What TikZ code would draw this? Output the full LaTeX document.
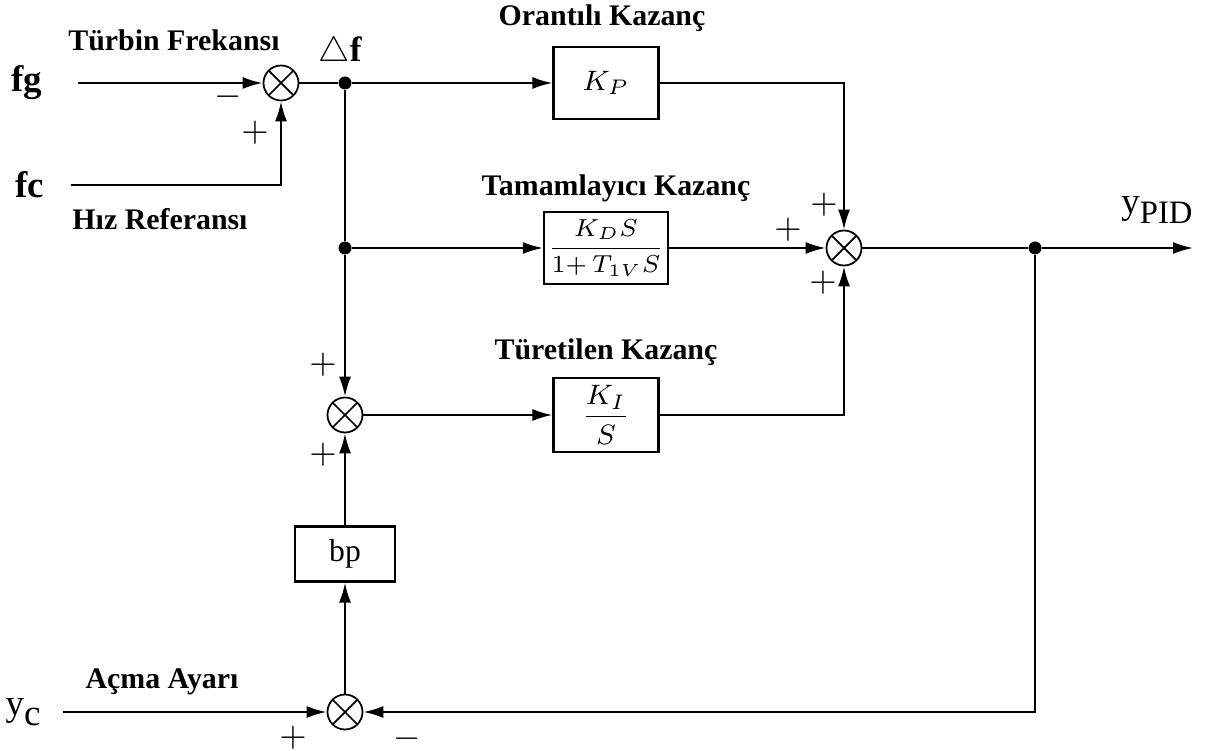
\documentclass[tikz,border=0pt]{standalone}
\usepackage{amsmath}
\usepackage{fontspec}
\setmainfont{Liberation Serif}
\usetikzlibrary{positioning,arrows.meta}

\begin{document}
\begin{tikzpicture}[
            on grid,
            font=\fontsize{8.5}{10}\selectfont\bfseries,
            block/.style={rectangle, draw, line width=0.6pt, minimum width=1.05cm, minimum height=0.72cm, inner sep=1pt, font=\fontsize{8.5}{10}\selectfont},
            sumnode/.style={circle, draw, line width=0.5pt, minimum size=0.35cm, inner sep=0pt,
                path picture={\draw[line width=0.5pt] (path picture bounding box.north west) -- (path picture bounding box.south east)
                    (path picture bounding box.north east) -- (path picture bounding box.south west);}},
            dot/.style={circle, fill, inner sep=0pt, minimum size=1.3mm},
            sign/.style={font=\fontsize{10}{12}\selectfont},
            insig/.style={font=\fontsize{10.5}{12}\selectfont\bfseries},
            arrow/.style={-{Latex[length=2mm,width=1.2mm]}, line width=0.6pt},
            line/.style={line width=0.6pt}
        ]
            \useasboundingbox (0,0) rectangle (12.13,-7.51);
            \node[sumnode] (sumf) at (2.81,-0.83) {};
            \node[dot, right=0.64cm of sumf] (df) {};
            \node[block, right=2.61cm of df] (kp) {$K_P$};
            \node[dot, below=1.65cm of df] (dkd) {};
            \node[block, right=2.61cm of dkd, font=\fontsize{7}{9}\selectfont] (kd) {$\dfrac{K_D S}{1{+}\,T_{1V}S}$};
            \node[sumnode, right=2.38cm of kd] (sumpid) {};
            \node[sumnode, below=1.67cm of dkd] (sumi) {};
            \node[block, right=2.61cm of sumi, minimum height=0.74cm] (ki) {$\dfrac{K_I}{S}$};
            \node[block, below=1.39cm of sumi, minimum width=1.0cm, minimum height=0.55cm, font=\fontsize{9}{10}\selectfont] (bp) {bp};
            \node[sumnode, below=1.58cm of bp] (sumy) {};
            \node[dot, right=1.91cm of sumpid] (dy) {};
            \coordinate[right=1.58cm of dy] (yout);
            \coordinate[left=2.03cm of sumf] (fgin);
            \coordinate[below=1.02cm of sumf] (fcc);
            \coordinate[left=2.10cm of fcc] (fcin);
            \coordinate[left=2.82cm of sumy] (ycin);

            \node[insig, left=0.51cm of fgin, anchor=center] (fg) {fg};
            \node[insig, left=0.41cm of fcin, anchor=center] (fc) {fc};
            \node[left=0.40cm of ycin, anchor=center, font=\fontsize{10.5}{12}\selectfont] (yc) {y\raisebox{-0.6ex}{c}};
            \node[above right=0.38cm and 1.22cm of dy, font=\fontsize{10.5}{12}\selectfont] (ypid) {y\raisebox{-0.6ex}{\fontsize{9.3}{10}\selectfont PID}};
            \node[above left=0.43cm and 1.07cm of sumf] (turbin) {Türbin Frekansı};
            \node[below left=0.34cm and 1.21cm of fcc, anchor=center] (hiz) {Hız Referansı};
            \node[above left=0.30cm and 0.05cm of df, font=\fontsize{10}{12}\selectfont\bfseries] (delta) {$\triangle$f};
            \node[above left=0.65cm and 0.04cm of kp] (oran) {Orantılı Kazanç};
            \node[above right=0.60cm and 0.10cm of kd] (tamam) {Tamamlayıcı Kazanç};
            \node[above=0.63cm of ki] (turet) {Türetilen Kazanç};
            \node[above left=0.30cm and 1.83cm of sumy] (acma) {Açma Ayarı};

            \node[sign, below left=0.14cm and 0.53cm of sumf] (sfg) {$-$};
            \node[sign, below left=0.50cm and 0.26cm of sumf] (sfc) {$+$};
            \node[sign, above left=0.43cm and 0.20cm of sumpid] (spp) {$+$};
            \node[sign, above left=0.18cm and 0.56cm of sumpid] (spd) {$+$};
            \node[sign, below left=0.35cm and 0.21cm of sumpid] (spi) {$+$};
            \node[sign, above left=0.50cm and 0.22cm of sumi] (sit) {$+$};
            \node[sign, below left=0.40cm and 0.22cm of sumi] (sib) {$+$};
            \node[sign, below left=0.26cm and 0.52cm of sumy] (syl) {$+$};
            \node[sign, below right=0.27cm and 0.62cm of sumy] (syr) {$-$};

            \draw[arrow] (fgin) -- (sumf);
            \draw[arrow] (fcin) -- (fcc) -- (sumf);
            \draw[line] (sumf) -- (df);
            \draw[arrow] (df) -- (kp);
            \draw[arrow] (kp) -| (sumpid);
            \draw[line] (df) -- (dkd);
            \draw[arrow] (dkd) -- (kd);
            \draw[arrow] (kd) -- (sumpid);
            \draw[arrow] (dkd) -- (sumi);
            \draw[arrow] (sumi) -- (ki);
            \draw[arrow] (ki) -| (sumpid);
            \draw[arrow] (bp) -- (sumi);
            \draw[arrow] (sumy) -- (bp);
            \draw[arrow] (ycin) -- (sumy);
            \draw[line] (sumpid) -- (dy);
            \draw[arrow] (dy) -- (yout);
            \draw[arrow] (dy) |- (sumy);
        \end{tikzpicture}
\end{document}
